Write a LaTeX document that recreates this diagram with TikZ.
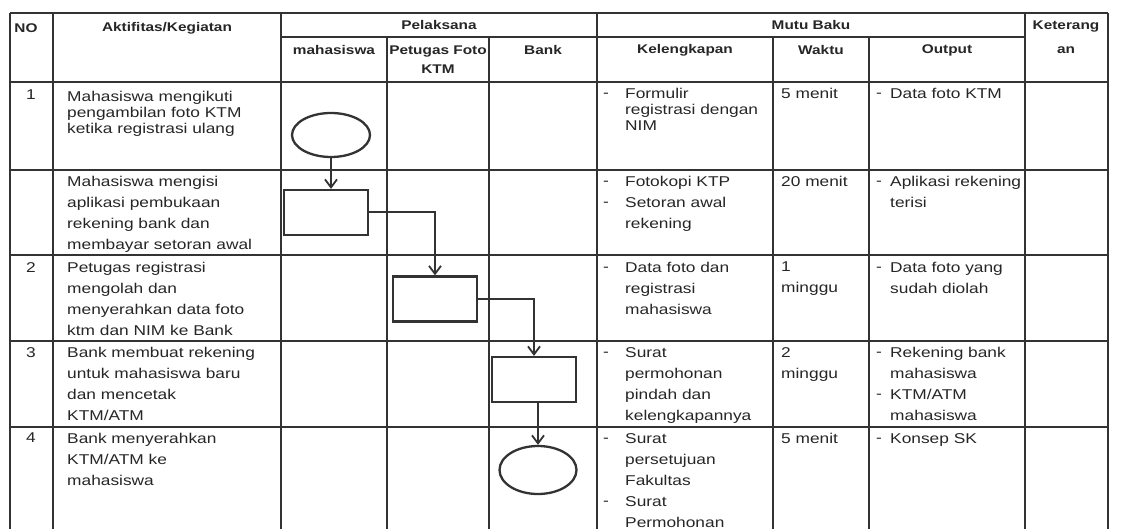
\documentclass[tikz,border=0pt]{standalone}
\usepackage{fontspec}
\setmainfont{Liberation Sans}[FakeStretch=1.22]
\usetikzlibrary{arrows.meta,shapes.geometric}
\definecolor{ink}{HTML}{262626}
\definecolor{rule}{HTML}{333333}
\newcommand{\bodyfont}{\fontsize{14.2}{21}\selectfont}
\newcommand{\tightfont}{\fontsize{14.2}{16}\selectfont}
\newcommand{\headfont}{\fontsize{12.6}{19}\selectfont\bfseries}
% a dash that sits on the same baseline as the text beside it
\newcommand{\bul}{\vphantom{M}-}
\begin{document}
\begin{tikzpicture}[x=1pt,y=-1pt,
  grid/.style={draw=rule,line width=1.9pt},
  cell/.style={anchor=north west,inner sep=0pt,align=left,text=ink,font=\bodyfont},
  cellone/.style={cell,font=\tightfont},
  head/.style={anchor=center,inner sep=0pt,align=center,text=ink,font=\headfont},
  ovalbox/.style={ellipse,draw=rule,line width=2.3pt,inner sep=0pt},
  actbox/.style={rectangle,draw=rule,line width=2.3pt,inner sep=0pt,minimum width=84pt,minimum height=45pt},
  flow/.style={draw=rule,line width=2pt,-{Straight Barb[length=8pt,width=12pt,line width=1.8pt]}}]
\useasboundingbox (0,0) rectangle (1121,529);
\fill[white] (0,0) rectangle (1121,529);
\clip (0,0) rectangle (1121,529);

% table rules
\draw[grid] (10,13) -- (1108,13);
\draw[grid] (281,37) -- (1025,37);
\foreach \y in {82,170,255,341,427} \draw[grid] (10,\y) -- (1108,\y);
\foreach \x in {10,53,281,597,1025,1108} \draw[grid] (\x,13) -- (\x,540);
\foreach \x in {387,489,773,869} \draw[grid] (\x,37) -- (\x,540);

% header
\node[head] (hno) at (26,28) {NO};
\node[head] (hakt) at (167,28) {Aktifitas/Kegiatan};
\node[head] (hpel) at (439,25) {Pelaksana};
\node[head] (hmutu) at (811,25) {Mutu Baku};
\node[head] (hket) at (1066,37) {Keterang\\[5pt]an};
\node[head] (hmhs) at (334,50) {mahasiswa};
\node[head] (hpet) at (438,60) {Petugas Foto\\KTM};
\node[head] (hbank) at (543,50) {Bank};
\node[head] (hkel) at (685,50) {Kelengkapan};
\node[head] (hwak) at (821,50) {Waktu};
\node[head] (hout) at (947,50) {Output};

% row 1
\node[cellone] (n1) at (26,90) {1};
\node[cellone] (a1) at (67,91) {Mahasiswa mengikuti\\pengambilan foto KTM\\ketika registrasi ulang};
\node[cellone] (kd1) at (603,88) {\bul};
\node[cellone] (k1) at (625,88) {Formulir\\registrasi dengan\\NIM};
\node[cellone] (w1) at (781,88) {5 menit};
\node[cellone] (od1) at (876,88) {\bul};
\node[cellone] (o1) at (890,88) {Data foto KTM};

% row 2
\node[cell] (a2) at (67,176) {Mahasiswa mengisi\\aplikasi pembukaan\\rekening bank dan\\membayar setoran awal};
\node[cell] (kd2) at (603,176) {\bul\\\bul};
\node[cell] (k2) at (625,176) {Fotokopi KTP\\Setoran awal\\rekening};
\node[cell] (w2) at (781,176) {20 menit};
\node[cell] (od2) at (876,176) {\bul};
\node[cell] (o2) at (890,176) {Aplikasi rekening\\terisi};

% row 3
\node[cell] (n3) at (26,262) {2};
\node[cell] (a3) at (67,262) {Petugas registrasi\\mengolah dan\\menyerahkan data foto\\ktm dan NIM ke Bank};
\node[cell] (kd3) at (603,262) {\bul};
\node[cell] (k3) at (625,262) {Data foto dan\\registrasi\\mahasiswa};
\node[cell] (w3) at (781,262) {1\\minggu};
\node[cell] (od3) at (876,262) {\bul};
\node[cell] (o3) at (890,262) {Data foto yang\\sudah diolah};

% row 4
\node[cell] (n4) at (26,347) {3};
\node[cell] (a4) at (67,347) {Bank membuat rekening\\untuk mahasiswa baru\\dan mencetak\\KTM/ATM};
\node[cell] (kd4) at (603,347) {\bul};
\node[cell] (k4) at (625,347) {Surat\\permohonan\\pindah dan\\kelengkapannya};
\node[cell] (w4) at (781,347) {2\\minggu};
\node[cell] (od4) at (876,347) {\bul\\ \\\bul};
\node[cell] (o4) at (890,347) {Rekening bank\\mahasiswa\\KTM/ATM\\mahasiswa};

% row 5
\node[cell] (n5) at (26,433) {4};
\node[cell] (a5) at (67,433) {Bank menyerahkan\\KTM/ATM ke\\mahasiswa};
\node[cell] (kd5) at (603,433) {\bul\\ \\ \\\bul};
\node[cell] (k5) at (625,433) {Surat\\persetujuan\\Fakultas\\Surat\\Permohonan};
\node[cell] (w5) at (781,433) {5 menit};
\node[cell] (od5) at (876,433) {\bul};
\node[cell] (o5) at (890,433) {Konsep SK};

% flow symbols
\node[ovalbox,minimum width=78pt,minimum height=44pt] (start) at (331,135) {};
\node[actbox] (s1) at (326,212.5) {};
\node[actbox] (s2) at (435,299) {};
\node[actbox] (s3) at (534,379.5) {};
\node[ovalbox,minimum width=77pt,minimum height=48pt] (finish) at (538,470) {};

\draw[flow] (start.south) -- (start.south |- s1.north);
\draw[flow] (s1.east) -| (s2.north);
\draw[flow] (s2.east) -| (s3.north);
\draw[flow] (finish.north |- s3.south) -- (finish.north);
\end{tikzpicture}
\end{document}
